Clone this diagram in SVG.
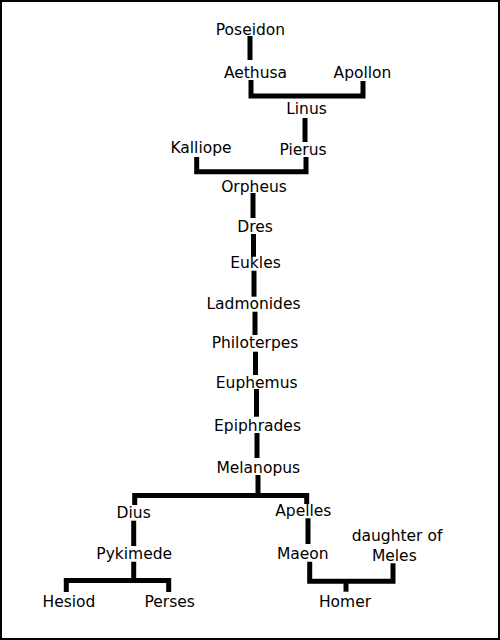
<svg xmlns="http://www.w3.org/2000/svg" width="500" height="640" viewBox="0 0 500 640">
<style>
.n text{font-family:"DejaVu Sans","Liberation Sans",sans-serif;font-size:15.5px;fill:#000;text-anchor:middle}
.c line,.c polyline{stroke:#000;stroke-width:5;fill:none;stroke-linecap:butt;stroke-linejoin:miter}
</style>
<rect x="1" y="1" width="498" height="638" fill="#fff" stroke="#000" stroke-width="2"/>
<g id="connectors" class="c">
<line x1="250" y1="36" x2="250" y2="60"/>
<polyline points="251,80 251,96 363,96 363,81"/>
<line x1="305" y1="118" x2="305" y2="142"/>
<polyline points="196.7,157 196.7,171.7 306,171.7 306,157"/>
<line x1="253" y1="193" x2="253" y2="218"/>
<line x1="253.5" y1="234" x2="253.5" y2="256.7"/>
<line x1="254" y1="270.7" x2="254" y2="296.7"/>
<line x1="255" y1="311.7" x2="255" y2="335"/>
<line x1="255.5" y1="351.7" x2="255.5" y2="375"/>
<line x1="256.5" y1="389" x2="256.5" y2="416.7"/>
<line x1="257" y1="433" x2="257" y2="458"/>
<line x1="258" y1="475" x2="258" y2="495.5"/>
<polyline points="134.7,505 134.7,495.5 306.7,495.5 306.7,504"/>
<line x1="133.7" y1="520.7" x2="133.7" y2="546"/>
<line x1="133.7" y1="561.7" x2="133.7" y2="580.5"/>
<polyline points="66.3,592 66.3,580.5 168.7,580.5 168.7,592"/>
<line x1="308" y1="518.3" x2="308" y2="544"/>
<polyline points="309.7,561.7 309.7,581.3 393,581.3 393,563.3"/>
<line x1="346" y1="581.3" x2="346" y2="591.7"/>
</g>
<g id="poseidon" class="n"><text x="250.5" y="35">Poseidon</text></g>
<g id="aethusa" class="n"><text x="255.5" y="78.3">Aethusa</text></g>
<g id="apollon" class="n"><text x="362.5" y="78">Apollon</text></g>
<g id="linus" class="n"><text x="306.5" y="114">Linus</text></g>
<g id="kalliope" class="n"><text x="201" y="153.3">Kalliope</text></g>
<g id="pierus" class="n"><text x="303" y="155">Pierus</text></g>
<g id="orpheus" class="n"><text x="254" y="191.7">Orpheus</text></g>
<g id="dres" class="n"><text x="255" y="231.7">Dres</text></g>
<g id="eukles" class="n"><text x="255.5" y="268.3">Eukles</text></g>
<g id="ladmonides" class="n"><text x="253.5" y="309.3">Ladmonides</text></g>
<g id="philoterpes" class="n"><text x="255" y="348.3">Philoterpes</text></g>
<g id="euphemus" class="n"><text x="256.7" y="388.3">Euphemus</text></g>
<g id="epiphrades" class="n"><text x="257.5" y="430.7">Epiphrades</text></g>
<g id="melanopus" class="n"><text x="258.3" y="473.3">Melanopus</text></g>
<g id="dius" class="n"><text x="133.7" y="518.3">Dius</text></g>
<g id="apelles" class="n"><text x="303.3" y="515.7">Apelles</text></g>
<g id="pykimede" class="n"><text x="134.2" y="559.3">Pykimede</text></g>
<g id="maeon" class="n"><text x="302.8" y="559">Maeon</text></g>
<g id="daughter-of-meles" class="n"><text x="397" y="541">daughter of</text><text x="394.3" y="560.7">Meles</text></g>
<g id="hesiod" class="n"><text x="69" y="606.7">Hesiod</text></g>
<g id="perses" class="n"><text x="169.7" y="606.7">Perses</text></g>
<g id="homer" class="n"><text x="345" y="606.7">Homer</text></g>
</svg>
